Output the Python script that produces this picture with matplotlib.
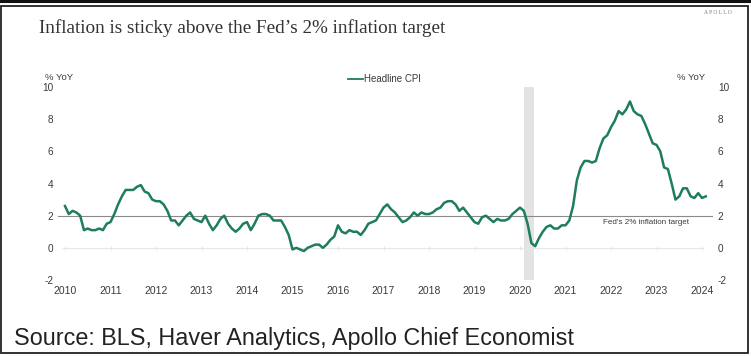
import numpy as np
import matplotlib.pyplot as plt
from matplotlib.patches import Rectangle
from matplotlib.lines import Line2D

# Headline CPI, % YoY, monthly from Jan 2010
cpi_2010 = [2.6, 2.1, 2.3, 2.2, 2.0, 1.1, 1.2, 1.1, 1.1, 1.2, 1.1, 1.5]
cpi_2011 = [1.6, 2.1, 2.7, 3.2, 3.6, 3.6, 3.6, 3.8, 3.9, 3.5, 3.4, 3.0]
cpi_2012 = [2.9, 2.9, 2.7, 2.3, 1.7, 1.7, 1.4, 1.7, 2.0, 2.2, 1.8, 1.7]
cpi_2013 = [1.6, 2.0, 1.5, 1.1, 1.4, 1.8, 2.0, 1.5, 1.2, 1.0, 1.2, 1.5]
cpi_2014 = [1.6, 1.1, 1.5, 2.0, 2.1, 2.1, 2.0, 1.7, 1.7, 1.7, 1.3, 0.8]
cpi_2015 = [-0.1, 0.0, -0.1, -0.2, 0.0, 0.1, 0.2, 0.2, 0.0, 0.2, 0.5, 0.7]
cpi_2016 = [1.4, 1.0, 0.9, 1.1, 1.0, 1.0, 0.8, 1.1, 1.5, 1.6, 1.7, 2.1]
cpi_2017 = [2.5, 2.7, 2.4, 2.2, 1.9, 1.6, 1.7, 1.9, 2.2, 2.0, 2.2, 2.1]
cpi_2018 = [2.1, 2.2, 2.4, 2.5, 2.8, 2.9, 2.9, 2.7, 2.3, 2.5, 2.2, 1.9]
cpi_2019 = [1.6, 1.5, 1.9, 2.0, 1.8, 1.6, 1.8, 1.7, 1.7, 1.8, 2.1, 2.3]
cpi_2020 = [2.5, 2.3, 1.5, 0.3, 0.1, 0.6, 1.0, 1.3, 1.4, 1.2, 1.2, 1.4]
cpi_2021 = [1.4, 1.7, 2.6, 4.2, 5.0, 5.4, 5.4, 5.3, 5.4, 6.2, 6.8, 7.0]
cpi_2022 = [7.5, 7.9, 8.5, 8.3, 8.6, 9.1, 8.5, 8.3, 8.2, 7.7, 7.1, 6.5]
cpi_2023 = [6.4, 6.0, 5.0, 4.9, 4.0, 3.0, 3.2, 3.7, 3.7, 3.2, 3.1, 3.4]
cpi_2024 = [3.1, 3.2]

years = list(range(2010, 2025))
y_ticks = [-2, 0, 2, 4, 6, 8, 10]
fed_target = 2.0
recession = (2020.08, 2020.30)

cpi = np.array(cpi_2010 + cpi_2011 + cpi_2012 + cpi_2013 + cpi_2014 + cpi_2015
               + cpi_2016 + cpi_2017 + cpi_2018 + cpi_2019 + cpi_2020 + cpi_2021
               + cpi_2022 + cpi_2023 + cpi_2024)
dates = 2010 + np.arange(len(cpi)) / 12

W, H = 751, 356
plt.rcParams['font.family'] = ['Liberation Sans', 'DejaVu Sans']
plt.rcParams['axes.unicode_minus'] = False
fig = plt.figure(figsize=(W / 100, H / 100), dpi=100)

def fx(px):
    return px / W

def fy(py):
    return 1 - py / H

ax = fig.add_axes([fx(58), fy(280), fx(713) - fx(58), fy(87) - fy(280)])
ax.set_xlim(2010 - 7 / 45.5, 2024 + 11 / 45.5)
ax.set_ylim(-2, 10)

green = '#1d7d5d'
txt = '#3a3a3a'

ax.axvspan(recession[0], recession[1], color='#e3e3e3', lw=0, zorder=0)
ax.axhline(0, color='#e6e6e6', lw=0.8, xmin=0.008, xmax=0.985, zorder=1)
ax.plot(years, [0] * len(years), ls='none', marker='|', ms=3, mew=0.6,
        color='#dddddd', zorder=1)
ax.axhline(fed_target, color='#8a8a8a', lw=0.8, zorder=2)
ax.plot(dates, cpi, color=green, lw=1.8, zorder=3, solid_joinstyle='round')

ax.text(2022.77, fed_target - 0.22, "Fed's 2% inflation target", fontsize=5.8,
        color=txt, ha='center', va='top')

for s in ax.spines.values():
    s.set_visible(False)
ax.set_xticks(years)
ax.set_yticks(y_ticks)
ax.tick_params(length=0, labelsize=7.2, colors=txt, labelright=True, pad=3.5)
ax.tick_params(axis='x', pad=4.5, labelsize=7.5)

fig.text(fx(45), fy(77), '% YoY', fontsize=6.8, color=txt, va='center')
fig.text(fx(705), fy(77), '% YoY', fontsize=6.8, color=txt, va='center', ha='right')

# legend
fig.add_artist(Line2D([fx(348), fx(363)], [fy(79), fy(79)], color=green, lw=1.3))
fig.text(fx(364), fy(79), 'Headline CPI', fontsize=7, color=txt, va='center')

fig.text(fx(39), fy(33), 'Inflation is sticky above the Fed\u2019s 2% inflation target',
         fontsize=13.8, family='Liberation Serif', color='#333333', va='baseline')
fig.text(fx(732), fy(13), 'A P O L L O', fontsize=4, family='Liberation Serif',
         color='#777777', ha='right', va='center')
fig.text(fx(14), fy(345), 'Source: BLS, Haver Analytics, Apollo Chief Economist',
         fontsize=16.8, color='#222222', va='baseline')

# frame
fig.add_artist(Line2D([0, 1], [fy(1), fy(1)], color='#111111', lw=2.2))
fig.add_artist(Rectangle((fx(1), fy(353)), fx(748) - fx(1), fy(6) - fy(353),
                         fill=False, ec='#222222', lw=1.3, transform=fig.transFigure))

fig.savefig('out.png', dpi=100)
